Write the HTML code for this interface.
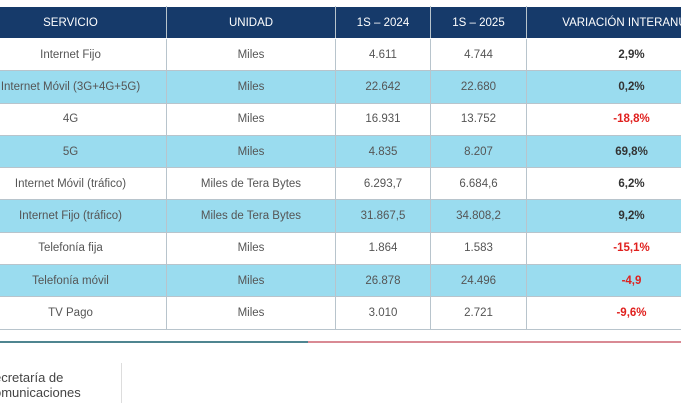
<!DOCTYPE html>
<html><head><meta charset="utf-8"><style>
body{margin:0;width:681px;height:400px;overflow:hidden;background:#fff;font-family:"Liberation Sans",sans-serif;position:relative}
table{position:absolute;left:-26px;top:6px;width:762px;border-collapse:collapse;table-layout:fixed}
td,th{border:1px solid #b8c4cc;text-align:center;font-size:11.5px;color:#555;padding:0;height:31.3px;white-space:nowrap;overflow:hidden}
th{background:#163a6a;color:#fff;font-weight:normal;height:31px;border-color:#fff #b8c4cc;font-size:11.5px}
tr.b td{background:#9adcef}
td.p{font-weight:bold;color:#333}
td.r{color:#e0201e;font-weight:bold}
.l1{position:absolute;top:341px;left:0;width:308px;height:2px;background:#4f8590}
.l2{position:absolute;top:341px;left:308px;width:373px;height:2px;background:#d98a94}
.v{position:absolute;left:121px;top:363px;width:1px;height:40px;background:#ddd}
.t{position:absolute;left:-6px;top:370px;font-size:13px;color:#444;line-height:15px}
</style></head><body>
<table>
<colgroup><col style="width:192px"><col style="width:169px"><col style="width:95px"><col style="width:96px"><col style="width:210px"></colgroup>
<tr><th>SERVICIO</th><th>UNIDAD</th><th>1S – 2024</th><th>1S – 2025</th><th>VARIACIÓN INTERANUAL</th></tr>
<tr><td>Internet Fijo</td><td>Miles</td><td>4.611</td><td>4.744</td><td class="p">2,9%</td></tr>
<tr class="b"><td>Internet Móvil (3G+4G+5G)</td><td>Miles</td><td>22.642</td><td>22.680</td><td class="p">0,2%</td></tr>
<tr><td>4G</td><td>Miles</td><td>16.931</td><td>13.752</td><td class="r">-18,8%</td></tr>
<tr class="b"><td>5G</td><td>Miles</td><td>4.835</td><td>8.207</td><td class="p">69,8%</td></tr>
<tr><td>Internet Móvil (tráfico)</td><td>Miles de Tera Bytes</td><td>6.293,7</td><td>6.684,6</td><td class="p">6,2%</td></tr>
<tr class="b"><td>Internet Fijo (tráfico)</td><td>Miles de Tera Bytes</td><td>31.867,5</td><td>34.808,2</td><td class="p">9,2%</td></tr>
<tr><td>Telefonía fija</td><td>Miles</td><td>1.864</td><td>1.583</td><td class="r">-15,1%</td></tr>
<tr class="b"><td>Telefonía móvil</td><td>Miles</td><td>26.878</td><td>24.496</td><td class="r">-4,9</td></tr>
<tr><td>TV Pago</td><td>Miles</td><td>3.010</td><td>2.721</td><td class="r">-9,6%</td></tr>
</table>
<div class="l1"></div><div class="l2"></div><div class="v"></div>
<div class="t">ecretaría de<br>omunicaciones</div>
</body></html>
